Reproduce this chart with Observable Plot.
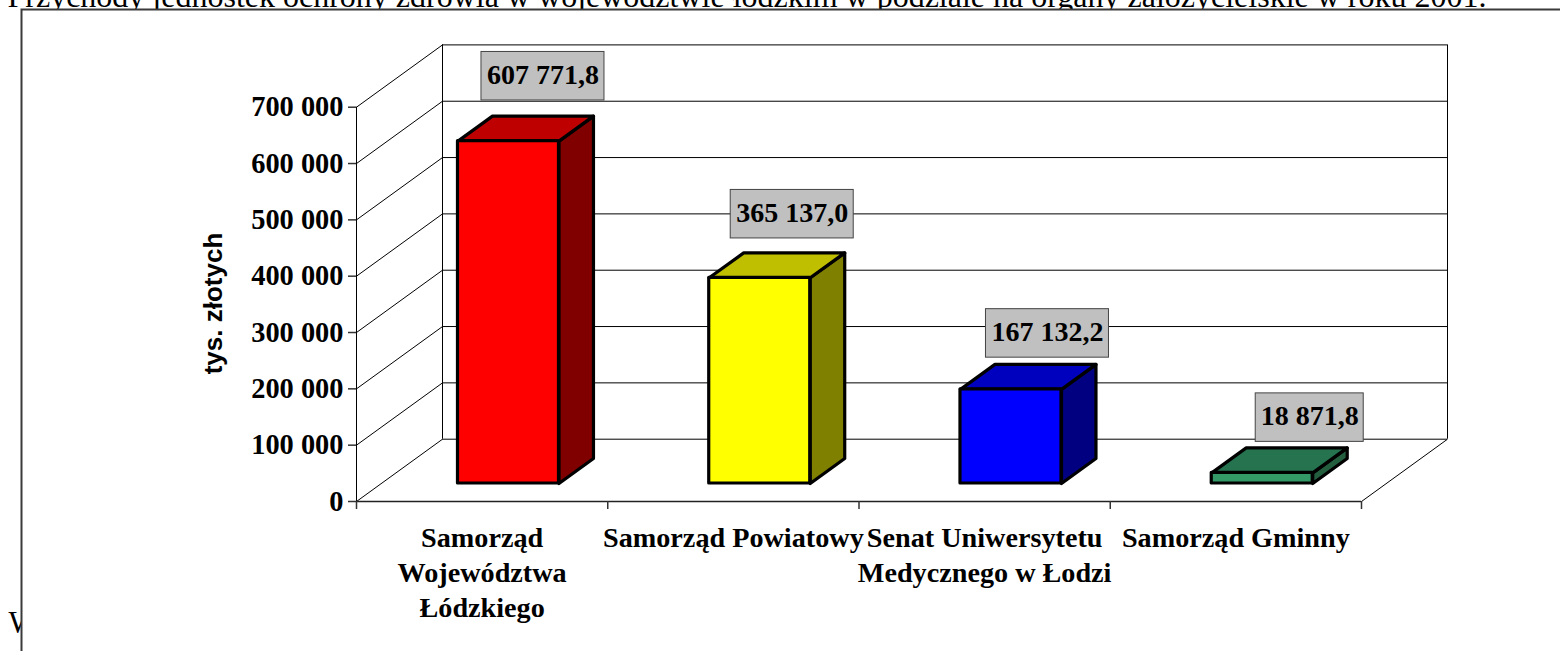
<!DOCTYPE html>
<html>
<head>
<meta charset="utf-8">
<script src="https://cdn.jsdelivr.net/npm/d3@7"></script>
<script src="https://cdn.jsdelivr.net/npm/@observablehq/plot@0.6"></script>
<style>
html,body{margin:0;padding:0;background:#fff;overflow:hidden}
svg{display:block}
</style>
</head>
<body>
<div id="chart"></div>
<script>
// ---- data ----
const categories = ["Samorząd\nWojewództwa\nŁódzkiego", "Samorząd Powiatowy", "Senat Uniwersytetu\nMedycznego w Łodzi", "Samorząd Gminny"];
const values = [607771.8, 365137.0, 167132.2, 18871.8];
const yTicks = [0, 100000, 200000, 300000, 400000, 500000, 600000, 700000];
const xTicks = [0, 1, 2, 3, 4];
const titleText = "Przychody jednostek ochrony zdrowia w województwie łódzkim w podziale na organy założycielskie w roku 2001.";
const yLabel = "tys. złotych";

// ---- styles ----
const frontColors = ["#ff0000", "#ffff00", "#0000ff", "#339966"];
const topColors = ["#bf0000", "#bfbf00", "#0000bf", "#267350"];
const sideColors = ["#800000", "#808000", "#000080", "#235f3f"];
const serif = "'Liberation Serif','Times New Roman',serif";
const sans = "'Liberation Sans',Arial,sans-serif";

// ---- layout ----
const L = 356, R = 1361, T = 106.7, B = 501;
const unitX = (R - L) / 4;                 // px per category
const unitY = (B - T) / 700000;            // px per value unit
const depthX = 86 / unitX, depthY = 62.3 / unitY;  // chart-wall depth
const z0 = 0.289, z1 = 0.69, barW = 0.402, barC = 0.506;
const boxNudge = [0, -2, 2, 13], boxGap = [15.7, 14.4, 6.7, 6], boxW = [123, 123, 123, 108], boxH = 48.5;

const locale = d3.formatLocale({decimal: ",", thousands: " ", grouping: [3]});
const fmt = locale.format(",.1f");
const tickFmt = locale.format(",d");

const pt = (x, v, z) => ({x: x + z * depthX, y: v + z * depthY});
const barFaces = values.flatMap((v, i) => {
  const xl = i + barC - barW / 2, xr = i + barC + barW / 2;
  const face = (pts, fill) => Plot.line(pts, {x: "x", y: "y", curve: "linear-closed", fill, stroke: "#000", strokeWidth: 3.2, strokeLinejoin: "round"});
  return [
    face([pt(xr, 0, z0), pt(xr, v, z0), pt(xr, v, z1), pt(xr, 0, z1)], sideColors[i]),
    face([pt(xl, v, z0), pt(xr, v, z0), pt(xr, v, z1), pt(xl, v, z1)], topColors[i]),
    Plot.rect([{i, v}], {x1: () => pt(xl, 0, z0).x, x2: () => pt(xr, 0, z0).x, y1: () => pt(xl, 0, z0).y, y2: () => pt(xl, v, z0).y, fill: frontColors[i], stroke: "#000", strokeWidth: 3.2, strokeLinejoin: "round"})
  ];
});

const boxes = values.map((v, i) => {
  const cx = i + barC + z1 * depthX + boxNudge[i] / unitX;
  const y1 = v + z1 * depthY + boxGap[i] / unitY;
  return {cx, y1, y2: y1 + boxH / unitY, w: boxW[i] / unitX, text: fmt(v)};
});

const gridStyle = {stroke: "#000", strokeWidth: 1};
const chart = Plot.plot({
  width: 1560, height: 651,
  marginLeft: L, marginRight: 1560 - R, marginTop: T, marginBottom: 651 - B,
  x: {domain: [0, 4], axis: null},
  y: {domain: [0, 700000], axis: null},
  marks: [
    // page text behind the chart object
    Plot.text([titleText], {text: d => d, frameAnchor: "top-left", dx: 7 - L, dy: 6 - T, textAnchor: "start", lineAnchor: "bottom", fontFamily: serif, fontSize: 32, fill: "#000"}),
    Plot.text(["W"], {text: d => d, frameAnchor: "top-left", dx: 8 - L, dy: 632 - T, textAnchor: "start", lineAnchor: "bottom", fontFamily: serif, fontSize: 32, fill: "#000"}),
    Plot.frame({fill: "#fff", stroke: "#3a3a3a", strokeWidth: 2, insetLeft: 21 - L, insetTop: 9 - T, insetRight: -(1560 - R) - 6, insetBottom: -(651 - B) - 6}),
    // walls
    Plot.ruleY(yTicks, {y: d => d + depthY, x1: () => depthX, x2: () => 4 + depthX, ...gridStyle}),
    Plot.link(yTicks, {x1: () => 0, x2: () => depthX, y1: d => d, y2: d => d + depthY, ...gridStyle}),
    Plot.ruleX([depthX, 4 + depthX], {x: d => d, y1: () => depthY, y2: () => 700000 + depthY, ...gridStyle}),
    Plot.ruleX([0], {x: d => d, y1: () => 0, y2: () => 700000, ...gridStyle}),
    Plot.link([4], {x1: d => d, x2: d => d + depthX, y1: () => 0, y2: () => depthY, ...gridStyle}),
    Plot.ruleY([0], {y: d => d, x1: () => 0, x2: () => 4, stroke: "#222", strokeWidth: 1.5}),
    // axes
    Plot.axisY({ticks: yTicks, tickSize: 8, tickPadding: 5, tickFormat: tickFmt, label: null, stroke: "#333", fill: "#000", fontFamily: serif, fontSize: 28.4, fontWeight: "bold", strokeWidth: 1.5}),
    Plot.axisX({ticks: xTicks, tickSize: 8, tickPadding: 0, tickFormat: () => "", label: null, stroke: "#333", strokeWidth: 1.5}),
    // bars
    ...barFaces,
    // value boxes
    Plot.rect(boxes, {x1: d => d.cx - d.w / 2, x2: d => d.cx + d.w / 2, y1: "y1", y2: "y2", fill: "#c0c0c0", stroke: "#444", strokeWidth: 1}),
    Plot.text(boxes, {x: "cx", y: d => (d.y1 + d.y2) / 2, text: "text", dy: -1.5, fontFamily: serif, fontSize: 28, fontWeight: "bold", fill: "#000", lineAnchor: "middle"}),
    // category labels
    Plot.text(categories, {x: (d, i) => i + 0.5, y: () => 0, text: d => d, dy: 20.5, lineAnchor: "top", lineHeight: 1.24, fontFamily: serif, fontSize: 28.2, fontWeight: "bold", fill: "#000"}),
    // y label
    Plot.text([yLabel], {x: () => (213 - L) / unitX, y: () => (B - 303) / unitY, text: d => d, rotate: -90, fontFamily: sans, fontSize: 26, fontWeight: "bold", fill: "#000"})
  ]
});
document.getElementById("chart").appendChild(chart);
</script>
</body>
</html>
